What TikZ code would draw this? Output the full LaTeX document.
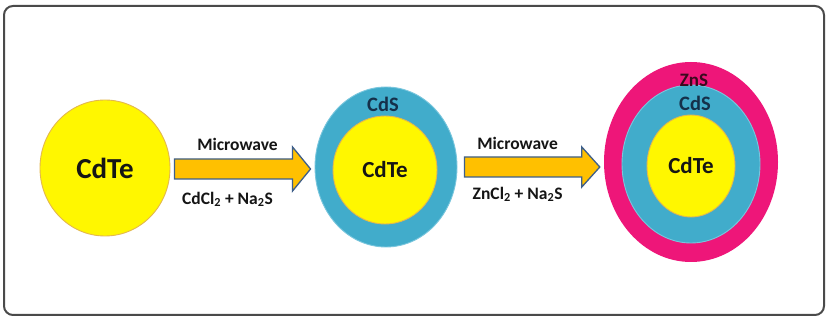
\documentclass[tikz,border=0pt]{standalone}
\usepackage{fontspec}
\setmainfont{Carlito}
\usetikzlibrary{shapes.geometric,calc}
\definecolor{cyel}{HTML}{FFF700}
\definecolor{cyeledge}{HTML}{E3B84E}
\definecolor{cteal}{HTML}{41ACCB}
\definecolor{ctealedge}{HTML}{79C6DD}
\definecolor{cpink}{HTML}{EE1679}
\definecolor{carrow}{HTML}{FFC000}
\definecolor{carrowedge}{HTML}{3E5F8A}
\definecolor{cframe}{HTML}{4A4A4A}
\definecolor{cnavy}{HTML}{15304A}
\definecolor{cmaroon}{HTML}{3A0A1E}
\definecolor{ctext}{HTML}{151515}
\tikzset{
  core/.style={ellipse, fill=cyel, draw=cyeledge, line width=0.9pt, inner sep=0pt, text=ctext, font=\bfseries\fontsize{23}{26}\selectfont},
  shell/.style={ellipse, fill=cteal, draw=ctealedge, line width=0.9pt, inner sep=0pt},
  outershell/.style={ellipse, fill=cpink, draw=none, inner sep=0pt},
  fatarrow/.style={fill=carrow, draw=carrowedge, line width=1.3pt, line join=miter},
  shelllabel/.style={font=\bfseries\fontsize{20.5}{22}\selectfont, text=cnavy, inner sep=0pt},
  arrowlabel/.style={font=\bfseries\fontsize{17.5}{20}\selectfont, text=ctext, inner sep=0pt},
  framebox/.style={draw=cframe, line width=2pt, rounded corners=9pt, fill=white}
}
\begin{document}
\begin{tikzpicture}[x=1pt,y=1pt]
\useasboundingbox (0,0) rectangle (827,321);
\draw[framebox] (4,6) rectangle (824,315);

% particle 1
\node[core, minimum width=130pt, minimum height=136pt, font=\bfseries\fontsize{29}{32}\selectfont] (c1) at (105,153) {CdTe};

% particle 2
\node[shell, minimum width=142pt, minimum height=160pt] (s2) at (386,154) {};
\node[core, minimum width=104pt, minimum height=108pt] (c2) at (385,151) {CdTe};
\node[shelllabel] (l2) at (383,217) {CdS};

% particle 3
\node[outershell, minimum width=174pt, minimum height=200pt] (p3) at (691,159) {};
\node[shell, minimum width=138pt, minimum height=158pt] (s3) at (691,157) {};
\node[core, minimum width=88pt, minimum height=102pt] (c3) at (691,155) {CdTe};
\node[shelllabel] (l3) at (695,218) {CdS};
\node[shelllabel, text=cmaroon, font=\bfseries\fontsize{19}{21}\selectfont] (z3) at (694,241) {ZnS};

% arrow 1
\draw[fatarrow] let \p1=($(c1.east)+(4pt,-1pt)$), \p2=($(s2.west)+(-4pt,0)$) in
  (\x1,\y1+10pt) -- (\x2-18pt,\y1+10pt) -- (\x2-18pt,\y1+22pt) -- (\x2,\y1)
  -- (\x2-18pt,\y1-22pt) -- (\x2-18pt,\y1-10pt) -- (\x1,\y1-10pt) -- cycle;
\coordinate (m1) at ($(c1.east)!0.5!(s2.west)$);
\node[arrowlabel] (mw1) at ($(m1)+(-5,23)$) {Microwave};
\node[arrowlabel] (r1) at ($(m1)+(-15,-32)$) {CdCl\textsubscript{2} + Na\textsubscript{2}S};

% arrow 2
\draw[fatarrow] let \p1=($(s2.east)+(7pt,0)$), \p2=($(p3.west)+(-4pt,0)$) in
  (\x1,\y1+10pt) -- (\x2-18pt,\y1+10pt) -- (\x2-18pt,\y1+20pt) -- (\x2,\y1)
  -- (\x2-18pt,\y1-20pt) -- (\x2-18pt,\y1-10pt) -- (\x1,\y1-10pt) -- cycle;
\coordinate (m2) at ($(s2.east)!0.5!(p3.west)$);
\node[arrowlabel] (mw2) at ($(m2)+(-13,21)$) {Microwave};
\node[arrowlabel] (r2) at ($(m2)+(-13,-30)$) {ZnCl\textsubscript{2} + Na\textsubscript{2}S};
\end{tikzpicture}
\end{document}
